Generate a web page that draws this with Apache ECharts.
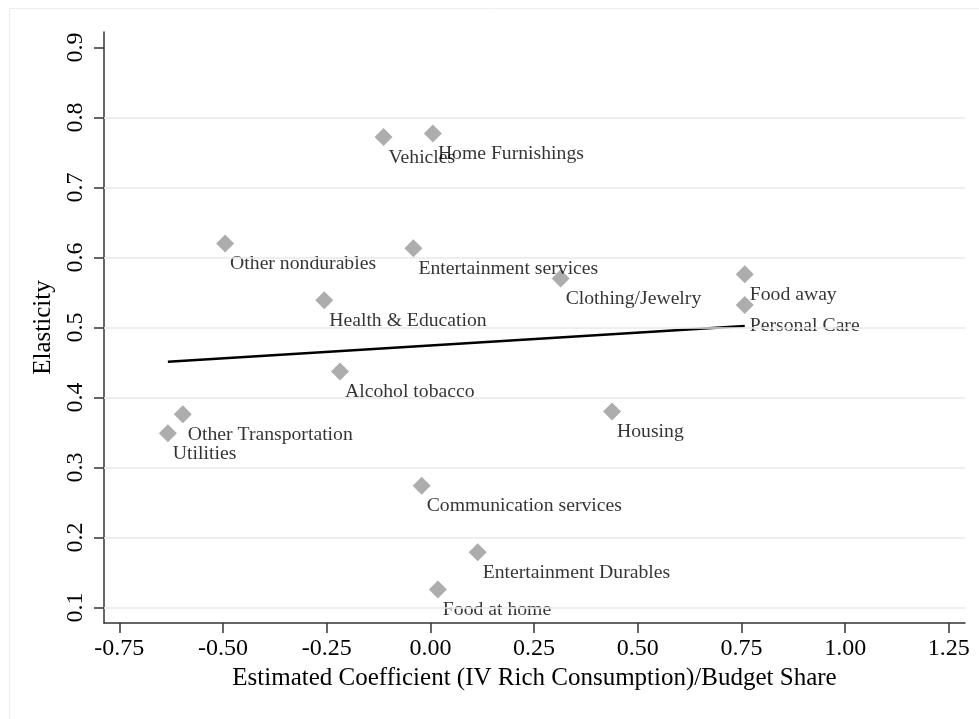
<!DOCTYPE html>
<html>
<head>
<meta charset="utf-8">
<title>Elasticity vs coefficient</title>
<script src="https://cdn.jsdelivr.net/npm/echarts@6/dist/echarts.min.js"></script>
<style>
  html, body { margin: 0; padding: 0; background: #fff; }
  #chart { width: 979px; height: 719px; }
</style>
</head>
<body>
<div id="chart"></div>
<script>
// categories and values
const names = ['Vehicles', 'Home Furnishings', 'Other nondurables', 'Entertainment services',
  'Clothing/Jewelry', 'Health & Education', 'Food away', 'Personal Care', 'Alcohol tobacco',
  'Other Transportation', 'Utilities', 'Housing', 'Communication services',
  'Entertainment Durables', 'Food at home']
const coefX = [-0.113, 0.006, -0.495, -0.041, 0.314, -0.256, 0.758, 0.758, -0.218,
  -0.597, -0.633, 0.438, -0.021, 0.114, 0.018]
const elasticity = [0.772, 0.777, 0.620, 0.613, 0.570, 0.539, 0.576, 0.532, 0.437,
  0.376, 0.349, 0.380, 0.274, 0.179, 0.126]

// fitted line end points
const fitX = [-0.633, 0.758]
const fitY = [0.451, 0.502]

const xTicks = [-0.75, -0.5, -0.25, 0, 0.25, 0.5, 0.75, 1, 1.25]
const yTicks = [0.1, 0.2, 0.3, 0.4, 0.5, 0.6, 0.7, 0.8, 0.9]
const yGrid = [0.1, 0.2, 0.3, 0.4, 0.5, 0.6, 0.7, 0.8]

const font = "'Liberation Serif', 'Times New Roman', serif"
const axisColor = '#333'

const chart = echarts.init(document.getElementById('chart'))

const points = names.map((n, i) => ({ name: n, value: [coefX[i], elasticity[i]] }))
const fitLine = fitX.map((x, i) => [x, fitY[i]])

chart.setOption({
  animation: false,
  backgroundColor: '#fff',
  graphic: [{
    type: 'rect',
    left: 7,
    top: 6,
    shape: { width: 1000, height: 1000 },
    style: { fill: 'none', stroke: '#ececec', lineWidth: 1 },
    silent: true
  }],
  grid: { left: 104, top: 32, right: 14, bottom: 96 },
  xAxis: {
    type: 'value',
    min: -0.787,
    max: 1.289,
    name: 'Estimated Coefficient (IV Rich Consumption)/Budget Share',
    nameLocation: 'middle',
    nameGap: 41,
    nameTextStyle: { fontFamily: font, fontSize: 25, color: '#000' },
    axisLine: { show: true, onZero: false, lineStyle: { color: axisColor, width: 1.5 } },
    axisTick: { show: true, length: 10, customValues: xTicks, lineStyle: { color: axisColor, width: 1.5 } },
    axisLabel: {
      customValues: xTicks,
      margin: 14,
      fontFamily: font,
      fontSize: 24,
      color: '#000',
      formatter: v => v.toFixed(2)
    },
    splitLine: { show: false }
  },
  yAxis: {
    type: 'value',
    min: 0.078,
    max: 0.922,
    name: 'Elasticity',
    nameLocation: 'middle',
    nameGap: 43,
    nameTextStyle: { fontFamily: font, fontSize: 25, color: '#000' },
    axisLine: { show: true, onZero: false, lineStyle: { color: axisColor, width: 1.5 } },
    axisTick: { show: true, length: 10, customValues: yTicks, lineStyle: { color: axisColor, width: 1.5 } },
    axisLabel: {
      customValues: yTicks,
      rotate: 90,
      margin: 16,
      fontFamily: font,
      fontSize: 24,
      color: '#000',
      formatter: v => v.toFixed(1)
    },
    splitLine: { show: false }
  },
  series: [
    {
      // horizontal grid lines
      type: 'line',
      data: [],
      z: 1,
      markLine: {
        silent: true,
        symbol: 'none',
        label: { show: false },
        lineStyle: { color: '#e8e8e8', width: 1.5, type: 'solid' },
        data: yGrid.map(v => ({ yAxis: v }))
      }
    },
    {
      type: 'scatter',
      data: points,
      symbol: 'diamond',
      symbolSize: 18,
      itemStyle: { color: '#999999' },
      label: {
        show: true,
        position: 'right',
        distance: 0,
        offset: [-4, 20.5],
        align: 'left',
        verticalAlign: 'middle',
        formatter: '{b}',
        fontFamily: font,
        fontSize: 19.7,
        color: '#000',
        textBorderWidth: 0
      },
      z: 3
    },
    {
      type: 'line',
      data: fitLine,
      symbol: 'none',
      lineStyle: { color: '#000', width: 2.5 },
      z: 4
    }
  ]
})
</script>
</body>
</html>
